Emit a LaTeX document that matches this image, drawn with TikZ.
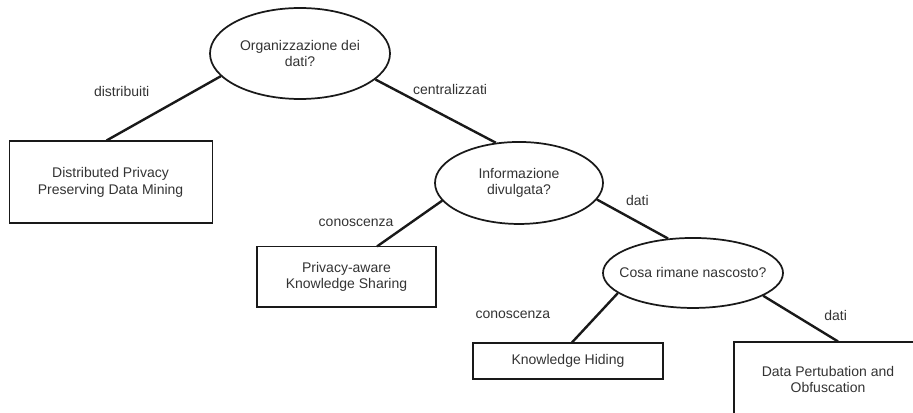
\documentclass[tikz,border=0pt]{standalone}
\usepackage{fontspec}
\setmainfont{Liberation Sans}
\usepackage{tikz}
\usetikzlibrary{positioning,shapes.geometric}
\usepackage{xcolor}
\definecolor{inkgray}{HTML}{333333}

\begin{document}
\begin{tikzpicture}[
  x=0.75pt, y=-0.75pt, on grid,
  question/.style={draw=black!90, ellipse, line width=1.3pt, align=center, inner sep=0pt,
    text=inkgray, font=\fontsize{10.5}{12.6}\selectfont},
  leaf/.style={draw=black!90, rectangle, line width=0.8pt, align=center, inner sep=0pt,
    text=inkgray, font=\fontsize{10.5}{12.6}\selectfont},
  branch/.style={draw=black!90, line width=1.8pt},
  lbl/.style={text=inkgray, font=\fontsize{10.5}{12.6}\selectfont, inner sep=0pt}
]
\useasboundingbox (0,0) rectangle (913,413);
\clip (0,0) rectangle (913,413);
\node[question, minimum width=135pt, minimum height=68.25pt] (org) at (300,53.5) {Organizzazione dei\\dati?};
\node[leaf, minimum width=152.25pt, minimum height=61.5pt, below left=96.4pt and 142.1pt of org] (dppdm) {Distributed Privacy\\Preserving Data Mining};
\node[question, minimum width=126pt, minimum height=61.5pt, below right=97.1pt and 164.25pt of org] (info) {Informazione\\divulgata?};
\node[leaf, minimum width=134.25pt, minimum height=45pt, below left=70.5pt and 129.4pt of info] (pks) {Privacy-aware\\Knowledge Sharing};
\node[question, inner xsep=-7.5pt, minimum width=135pt, minimum height=52.5pt, below right=67.5pt and 130.5pt of info] (hidden) {Cosa rimane nascosto?};
\node[leaf, minimum width=142.5pt, minimum height=27pt, below left=66pt and 93.75pt of hidden] (kh) {Knowledge Hiding};
\node[leaf, minimum width=141pt, minimum height=56.25pt, below right=79.9pt and 101.25pt of hidden] (dpo) {Data Pertubation and\\Obfuscation};
\draw[branch] (org.196) -- node[lbl, xshift=-31.5pt, yshift=12.4pt] {distribuiti} ([xshift=-3pt]dppdm.north);
\draw[branch] (org.341) -- node[lbl, xshift=10.9pt, yshift=16.5pt] {centralizzati} (info.120);
\draw[branch] (info.193) -- node[lbl, xshift=-40.1pt, yshift=0.4pt] {conoscenza} ([xshift=22.9pt]pks.north);
\draw[branch] (info.348) -- node[lbl, xshift=3.75pt, yshift=13.9pt] {dati} (hidden.126);
\draw[branch] (hidden.195) -- node[lbl, xshift=-61.5pt, yshift=2.25pt] {conoscenza} ([xshift=3pt]kh.north);
\draw[branch] (hidden.342) -- node[lbl, xshift=26.25pt, yshift=2.25pt] {dati} ([xshift=7.5pt]dpo.north);
\end{tikzpicture}
\end{document}
